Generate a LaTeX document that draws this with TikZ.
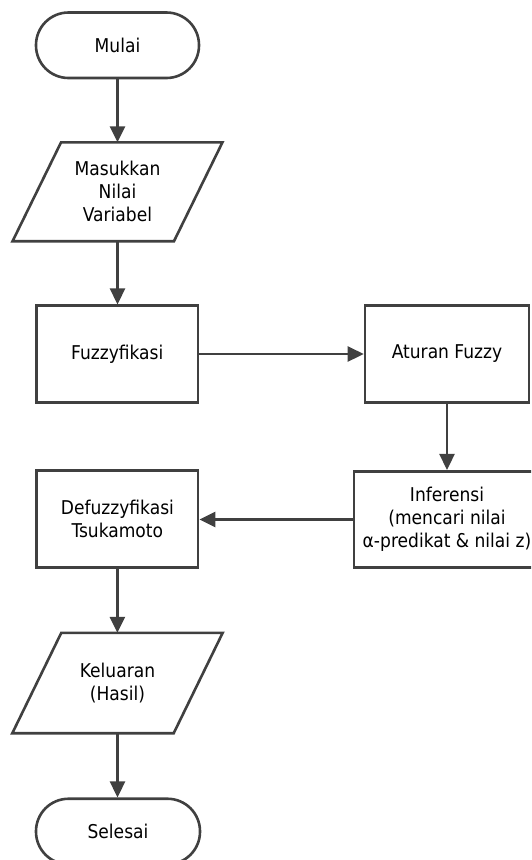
\documentclass[tikz,border=0pt]{standalone}
\usepackage{fontspec}
\setmainfont{DejaVu Sans Condensed}
\usetikzlibrary{arrows.meta}
\definecolor{lc}{HTML}{404040}
\newcommand{\flowfont}{\fontsize{19}{23}\selectfont}
\begin{document}
\begin{tikzpicture}[x=1pt,y=-1pt]
\tikzset{
  base/.style={align=center, inner sep=0pt, font=\flowfont, text=black},
  outline/.style={draw=lc, line width=2.6pt, fill=white},
  terminal/.style={base, outline, rounded corners=32.5pt, minimum width=163pt, minimum height=65.5pt},
  process/.style={base, outline, minimum height=96.5pt},
  iobox/.style={base, minimum width=161pt},
  slanted/.style={draw=lc, line width=2.6pt},
  flow/.style={draw=lc, line width=2.6pt, -{Triangle[length=16pt,width=15pt]}}
}
\useasboundingbox (0,0) rectangle (531,860);
\clip (0,0) rectangle (531,860);

% left column
\node[terminal] (start) at (117.5,45.25) {Mulai};
\node[iobox, minimum height=98.5pt] (input) at (117.5,191.8) {Masukkan\\Nilai\\Variabel};
\draw[slanted] ([xshift=24.25pt]input.north west) -- ([xshift=24.25pt]input.north east)
  -- ([xshift=-24.25pt]input.south east) -- ([xshift=-24.25pt]input.south west) -- cycle;
\node[process, minimum width=161.5pt] (fuzz) at (117.3,354) {Fuzzyfikasi};
\node[process, minimum width=161.5pt] (defuzz) at (117.4,519) {Defuzzyfikasi\\Tsukamoto};
\node[iobox, minimum height=100pt] (output) at (117.5,683) {Keluaran\\(Hasil)};
\draw[slanted] ([xshift=24.5pt]output.north west) -- ([xshift=24.5pt]output.north east)
  -- ([xshift=-24.5pt]output.south east) -- ([xshift=-24.5pt]output.south west) -- cycle;
\node[terminal, minimum width=164pt] (stop) at (118,831.5) {Selesai};

% right column
\node[process, minimum width=164pt] (rules) at (447,354) {Aturan Fuzzy};
\node[process, minimum width=186pt] (infer) at (447,519.5) {Inferensi\\(mencari nilai\\α-predikat \& nilai z)};

% connectors
\draw[flow] (start.south) -- (start.south |- input.north);
\draw[flow] (input.south) -- (input.south |- fuzz.north);
\draw[flow] (fuzz.east) -- (rules.west);
\draw[flow] (rules.south) -- (rules.south |- infer.north);
\draw[flow] (infer.west) -- (infer.west -| defuzz.east);
\draw[flow] (defuzz.south) -- (defuzz.south |- output.north);
\draw[flow] (output.south) -- (output.south |- stop.north);
\end{tikzpicture}
\end{document}
